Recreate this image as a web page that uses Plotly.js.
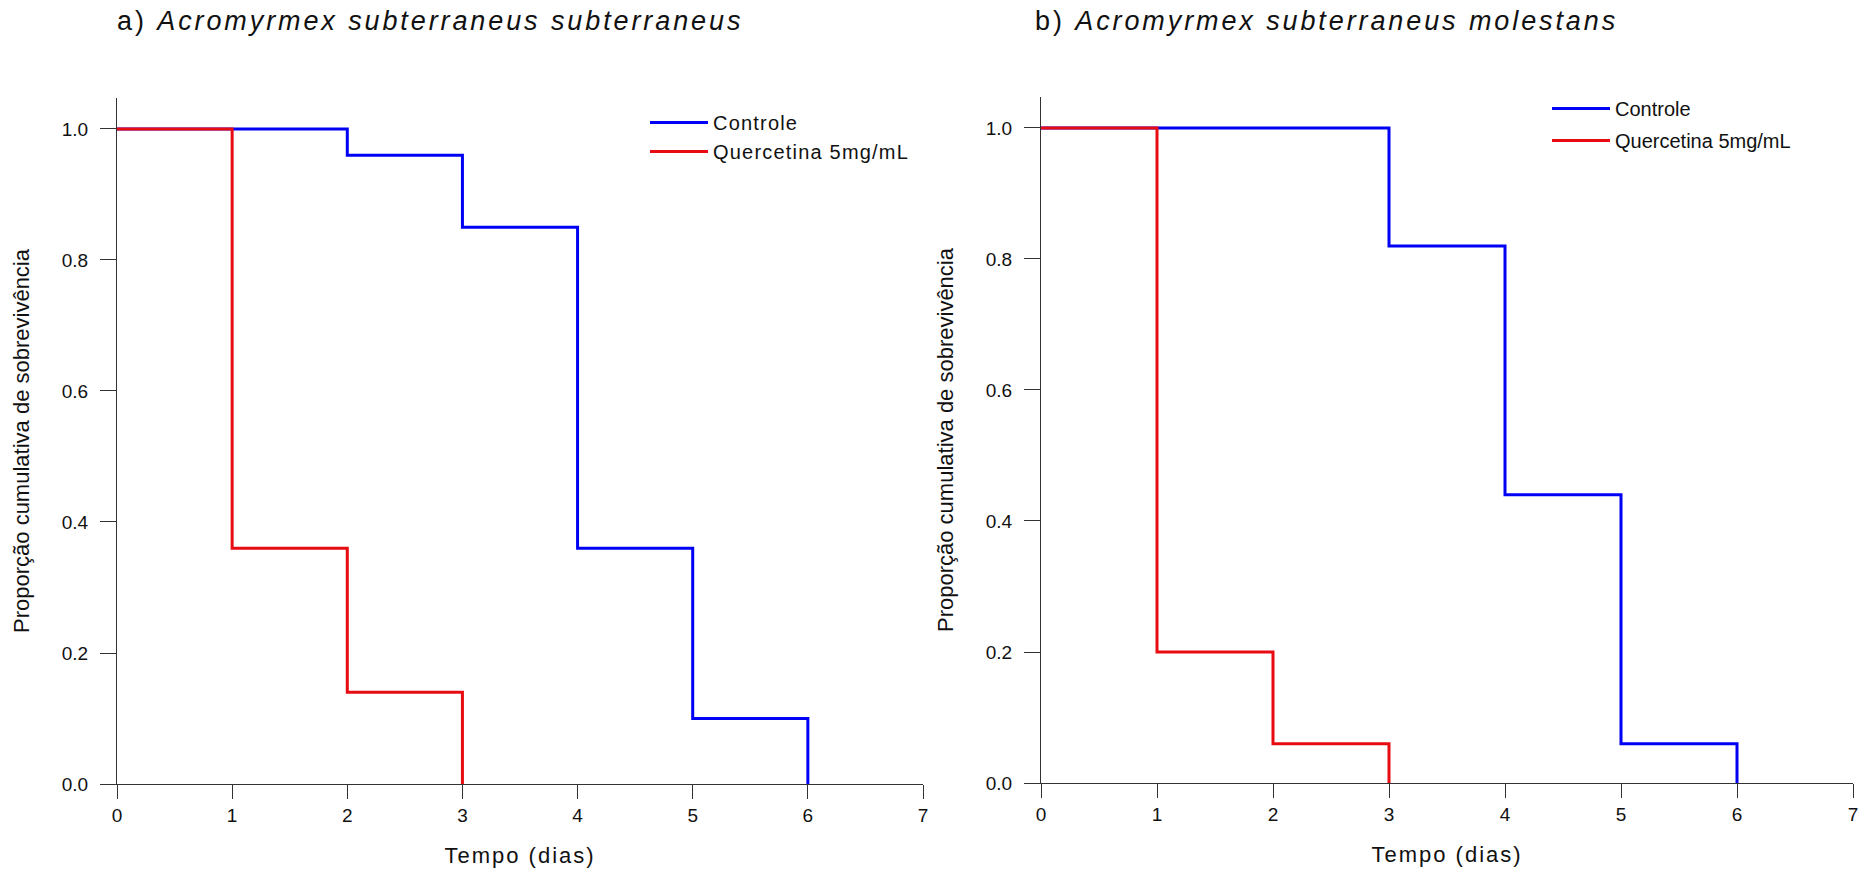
<!DOCTYPE html>
<html>
<head>
<meta charset="utf-8">
<script src="https://cdn.plot.ly/plotly-3.0.1.min.js"></script>
<style>
  html, body { margin: 0; padding: 0; background: #fff; }
  #chart { width: 1874px; height: 878px; }
  .annotation-text { letter-spacing: 2.9px; }
  .legendtext { letter-spacing: 1.2px; }
  .xtitle, .x2title { letter-spacing: 2px; }
</style>
</head>
<body>
<div id="chart"></div>
<script>
// ---- data ----
const panelTitles = ["a) <i>Acromyrmex subterraneus subterraneus</i>", "b) <i>Acromyrmex subterraneus molestans</i>"];
const seriesNames = ["Controle", "Quercetina 5mg/mL"];

// Panel a
const daysA_ctrl = [0, 2, 3, 4, 5, 6];
const survA_ctrl = [1.0, 0.96, 0.85, 0.36, 0.10, 0.0];
const daysA_quer = [0, 1, 2, 3];
const survA_quer = [1.0, 0.36, 0.14, 0.0];

// Panel b
const daysB_ctrl = [0, 3, 4, 5, 6];
const survB_ctrl = [1.0, 0.82, 0.44, 0.06, 0.0];
const daysB_quer = [0, 1, 2, 3];
const survB_quer = [1.0, 0.20, 0.06, 0.0];

const xTicks = [0, 1, 2, 3, 4, 5, 6, 7];
const yTicks = [0.0, 0.2, 0.4, 0.6, 0.8, 1.0];
const xLabel = "Tempo (dias)";
const yLabel = "Proporção cumulativa de sobrevivência";

// ---- styling ----
const W = 1874, H = 878;
const FONT = "Liberation Sans, Arial, Helvetica, sans-serif";
const BLUE = "rgb(0,0,245)";
const RED = "rgb(232,12,18)";

function stepTrace(x, y, name, color, xa, ya, legend, group) {
  return {
    type: "scatter", mode: "lines", x: x, y: y, name: name,
    line: { shape: "hv", color: color, width: 3 },
    xaxis: xa, yaxis: ya, legend: legend, legendgroup: group,
    cliponaxis: false, hoverinfo: "x+y+name"
  };
}

const data = [
  stepTrace(daysA_ctrl, survA_ctrl, seriesNames[0], BLUE, "x", "y", "legend", "a1"),
  stepTrace(daysA_quer, survA_quer, seriesNames[1], RED, "x", "y", "legend", "a2"),
  stepTrace(daysB_ctrl, survB_ctrl, seriesNames[0], BLUE, "x2", "y2", "legend2", "b1"),
  stepTrace(daysB_quer, survB_quer, seriesNames[1], RED, "x2", "y2", "legend2", "b2")
];

function xAxis(domain, anchor) {
  return {
    domain: domain, anchor: anchor, range: [0, 7], tickvals: xTicks,
    showline: true, linecolor: "#333", linewidth: 1, mirror: false,
    ticks: "outside", ticklen: 14, tickwidth: 1, tickcolor: "#333",
    showgrid: false, zeroline: false,
    tickfont: { family: FONT, size: 19, color: "#111" },
    title: { text: xLabel, font: { family: FONT, size: 22, color: "#111" }, standoff: 22 }
  };
}
function yAxis(domain, anchor) {
  return {
    domain: domain, anchor: anchor, range: [0, 1.0473], tickvals: yTicks, tickformat: ".1f",
    showline: true, linecolor: "#333", linewidth: 1, mirror: false,
    ticks: "outside", ticklen: 16, tickwidth: 1, tickcolor: "#333",
    ticklabelstandoff: 8,
    showgrid: false, zeroline: false,
    tickfont: { family: FONT, size: 19, color: "#111" },
    title: { text: yLabel, font: { family: FONT, size: 22, color: "#111" }, standoff: 26 }
  };
}

function legendBox(xpx, ypx, gap) {
  return {
    x: xpx / W, xanchor: "left", y: 1 - ypx / H, yanchor: "top",
    font: { family: FONT, size: 20, color: "#111" },
    bgcolor: "rgba(0,0,0,0)", borderwidth: 0,
    itemwidth: 58, traceorder: "grouped", tracegroupgap: gap
  };
}

const layout = {
  width: W, height: H,
  margin: { l: 0, r: 0, t: 0, b: 0 },
  paper_bgcolor: "#fff", plot_bgcolor: "#fff",
  font: { family: FONT, color: "#111" },
  showlegend: true,
  xaxis: xAxis([117 / W, 923 / W], "y"),
  yaxis: yAxis([1 - 784 / H, 1 - 98 / H], "x"),
  xaxis2: xAxis([1041 / W, 1853 / W], "y2"),
  yaxis2: yAxis([1 - 783 / H, 1 - 97 / H], "x2"),
  legend: legendBox(645, 103, 0),
  legend2: legendBox(1547, 89, 3),
  annotations: [
    { text: panelTitles[0], xref: "paper", yref: "paper", x: 115 / W, y: 1 - 4 / H,
      xanchor: "left", yanchor: "top", align: "left", showarrow: false,
      font: { family: FONT, size: 27, color: "#111" } },
    { text: panelTitles[1], xref: "paper", yref: "paper", x: 1033 / W, y: 1 - 4 / H,
      xanchor: "left", yanchor: "top", align: "left", showarrow: false,
      font: { family: FONT, size: 27, color: "#111" } }
  ]
};

Plotly.newPlot("chart", data, layout, { displayModeBar: false, responsive: false });
</script>
</body>
</html>
